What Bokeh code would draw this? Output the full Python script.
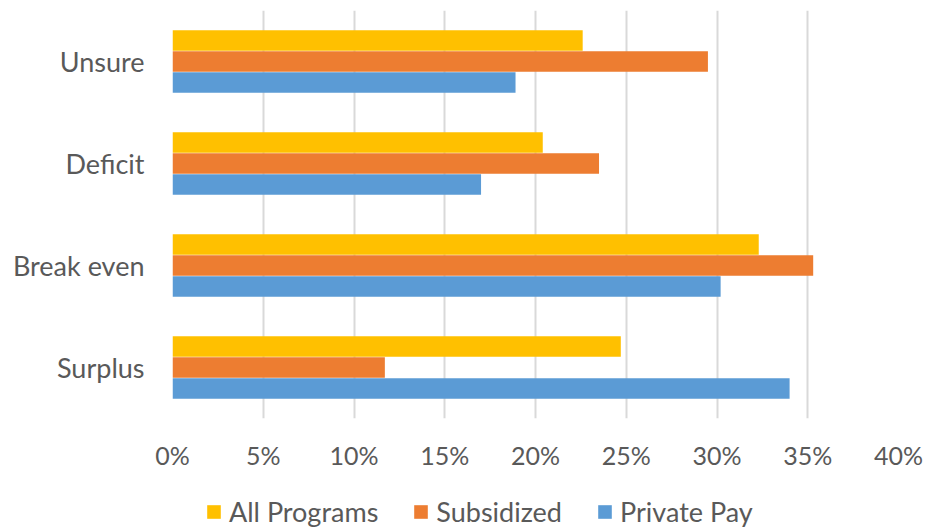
from bokeh.plotting import figure
from bokeh.layouts import column
from bokeh.models import (ColumnDataSource, FactorRange, Range1d, FixedTicker,
                          NumeralTickFormatter, Legend, LegendItem)
from bokeh.transform import dodge
from bokeh.embed import file_html
from bokeh.resources import INLINE

categories = ["Surplus", "Break even", "Deficit", "Unsure"]
all_programs = [0.247, 0.323, 0.204, 0.226]
subsidized = [0.117, 0.353, 0.235, 0.295]
private_pay = [0.340, 0.302, 0.170, 0.189]
x_ticks = [0, 0.05, 0.10, 0.15, 0.20, 0.25, 0.30, 0.35, 0.40]

series = [("All Programs", "a", "#FFC000", 0.206),
          ("Subsidized", "s", "#ED7D31", 0.0),
          ("Private Pay", "p", "#5B9BD5", -0.206)]

src = ColumnDataSource(dict(cat=categories, a=all_programs, s=subsidized, p=private_pay))

p = figure(width=926, height=480, y_range=FactorRange(*categories),
           x_range=Range1d(0, 0.40), output_backend="svg", toolbar_location=None,
           min_border_left=172, min_border_right=28, min_border_top=10,
           min_border_bottom=62, outline_line_color=None)

for name, col, color, off in series:
    p.hbar(y=dodge("cat", off, range=p.y_range), right=col, left=0, height=0.2,
           source=src, color=color, line_color=None)

font = "Lato"
p.xaxis.ticker = FixedTicker(ticks=x_ticks)
p.xaxis.formatter = NumeralTickFormatter(format="0%")
p.xaxis.axis_line_color = None
p.xaxis.major_tick_line_color = None
p.xaxis.major_tick_out = 0
p.xaxis.major_tick_in = 0
p.xaxis.minor_tick_line_color = None
p.xaxis.minor_tick_out = 0
p.xaxis.major_label_text_font = font
p.xaxis.major_label_text_font_size = "25px"
p.xaxis.major_label_text_color = "#595959"
p.xaxis.major_label_standoff = 21

p.yaxis.axis_line_color = None
p.yaxis.major_tick_line_color = None
p.yaxis.major_tick_out = 0
p.yaxis.major_label_text_font = font
p.yaxis.major_label_text_font_size = "27px"
p.yaxis.major_label_text_color = "#595959"
p.yaxis.major_label_standoff = 28

p.xgrid.grid_line_color = "#D9D9D9"
p.xgrid.grid_line_width = 2
p.ygrid.grid_line_color = None

# Legend strip below the chart (its frame is aligned with the chart's frame)
lg = figure(width=926, height=49, x_range=Range1d(0, 1), y_range=Range1d(0, 1),
            output_backend="svg", toolbar_location=None, min_border=0,
            outline_line_color=None)
lg.axis.visible = False
lg.grid.visible = False
items = []
for name, col, color, off in series:
    # off-screen proxy renderer, only used to draw the legend swatch
    r = lg.hbar(y=[-10], right=[1], left=[0], height=0.2, color=color, line_color=None)
    items.append(LegendItem(label=name, renderers=[r]))

legend = Legend(items=items, orientation="horizontal", location=(33, 1),
                label_text_font=font, label_text_font_size="27px",
                label_text_color="#595959", glyph_width=17, glyph_height=17,
                label_height=17, label_standoff=7, spacing=34,
                border_line_color=None, background_fill_alpha=0,
                margin=0, padding=0)
lg.add_layout(legend, "center")

layout = column(p, lg, spacing=0)
open("out.html", "w").write(file_html(layout, INLINE))
